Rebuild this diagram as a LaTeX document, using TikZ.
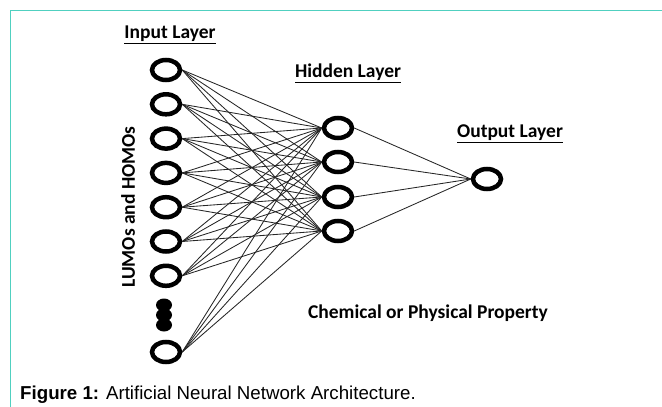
\documentclass[tikz,border=0pt]{standalone}
\usepackage{fontspec}
\setmainfont{Carlito}
\newfontfamily\capfont{Liberation Sans}
\usetikzlibrary{shapes.geometric}
\definecolor{frameteal}{RGB}{80,208,192}
\tikzset{
  neuron/.style={ellipse, draw=black, line width=4.5pt, minimum width=28pt, minimum height=20pt, inner sep=0pt},
  filldot/.style={ellipse, fill=black, minimum width=16pt, minimum height=13pt, inner sep=0pt},
  link/.style={draw=black!85, line width=0.85pt},
  layerlabel/.style={font=\fontsize{19.5}{22}\selectfont\bfseries, inner sep=0pt},
}
\begin{document}
\begin{tikzpicture}[x=1pt,y=-1pt]
\useasboundingbox (0,0) rectangle (662,407);
% frame
\draw[frameteal, line width=1.5pt] (10.5,407) -- (10.5,10.5) -- (662,10.5);

% input layer
\foreach \i/\y in {1/70,2/104.3,3/138.6,4/172.9,5/207.2,6/241.5,7/275.8,8/352}
  \node[neuron] (in\i) at (166,\y) {};
\foreach \i/\y in {1/305,2/315,3/325}
  \node[filldot] (dot\i) at (164,\y) {};

% hidden layer
\foreach \j/\y in {1/128,2/162,3/197,4/231}
  \node[neuron] (hid\j) at (338,\y) {};

% output layer
\node[neuron] (out) at (487,179) {};

% connections
\foreach \i in {1,...,8}
  \foreach \j in {1,...,4}
    \draw[link] (in\i.east) -- (hid\j.west);
\foreach \j in {1,...,4}
  \draw[link] (hid\j.east) -- (out.west);

% labels
\node[layerlabel] (lin) at (170,35) {\underline{Input Layer}};
\node[layerlabel] (lhid) at (348,73) {\underline{Hidden Layer}};
\node[layerlabel] (lout) at (510,134) {\underline{Output Layer}};
\node[layerlabel] (prop) at (428,313) {Chemical or Physical Property};
\node[layerlabel, rotate=90] (feat) at (128,207) {LUMOs and HOMOs};

% caption
\node[anchor=base west, inner sep=0pt, font=\capfont\fontsize{18.7}{21}\selectfont] (cap) at (20,399)
  {\textbf{Figure 1:} Artificial Neural Network Architecture.};
\end{tikzpicture}
\end{document}
